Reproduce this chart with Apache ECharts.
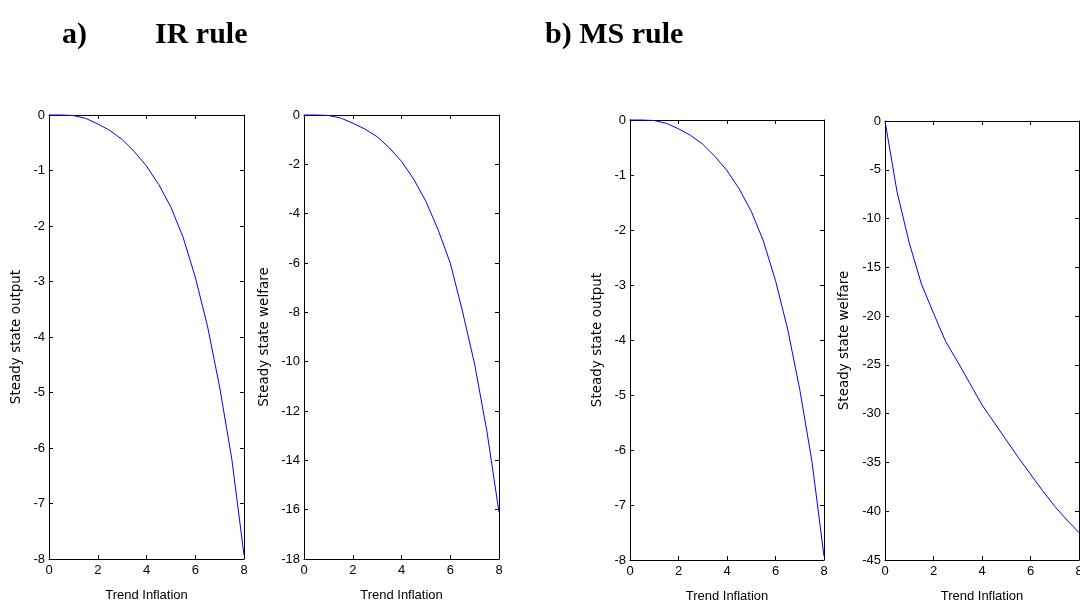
<!DOCTYPE html>
<html>
<head>
<meta charset="utf-8">
<script src="https://cdn.jsdelivr.net/npm/echarts@6/dist/echarts.min.js"></script>
<style>
html,body{margin:0;padding:0;background:#fff;}
#chart{width:1080px;height:604px;}
</style>
</head>
<body>
<div id="chart"></div>
<script>
// ---- data ----
var trendInflation = [0,0.5,1,1.5,2,2.5,3,3.5,4,4.5,5,5.5,6,6.5,7,7.5,8];
var irOutput  = [0,0,-0.01,-0.06,-0.16,-0.28,-0.44,-0.66,-0.92,-1.25,-1.66,-2.2,-2.92,-3.8,-4.9,-6.2,-7.93];
var irWelfare = [0,0,-0.02,-0.12,-0.33,-0.57,-0.88,-1.33,-1.88,-2.6,-3.5,-4.65,-6.0,-7.95,-10.1,-12.8,-16.1];
var msOutput  = [0,0,-0.01,-0.06,-0.16,-0.28,-0.44,-0.66,-0.92,-1.25,-1.66,-2.2,-2.92,-3.8,-4.9,-6.2,-7.93];
var msWelfare = [0,-7.3,-12.5,-16.7,-19.7,-22.6,-24.7,-26.9,-29.1,-30.9,-32.7,-34.5,-36.2,-37.9,-39.5,-40.9,-42.2];
var xName = 'Trend Inflation';
var yNames = ['Steady state output','Steady state welfare','Steady state output','Steady state welfare'];
var yMins = [-8,-18,-8,-45];
var yIntervals = [1,2,1,5];
var panelTitles = ['a)','IR rule','b) MS rule'];

var seriesData = [irOutput, irWelfare, msOutput, msWelfare];

// ---- layout ----
var grids = [
  {left:49, top:115, width:195, height:444, outerBoundsMode:'none', containLabel:false},
  {left:304, top:115, width:195, height:444, outerBoundsMode:'none', containLabel:false},
  {left:630, top:120, width:194, height:440, outerBoundsMode:'none', containLabel:false},
  {left:885, top:121, width:194, height:439, outerBoundsMode:'none', containLabel:false}
];
var yNameGaps = [26,33,26,34];

var axisLineStyle = {color:'#000', width:1};
var labelStyle = {color:'#000', fontSize:13, fontFamily:'Liberation Sans, Arial, sans-serif'};

var xAxes = [], yAxes = [], series = [];
grids.forEach(function(g,i){
  xAxes.push({
    type:'value', gridIndex:i, position:'bottom', min:0, max:8, interval:2,
    axisLine:{show:true, onZero:false, lineStyle:axisLineStyle},
    axisTick:{show:true, inside:true, length:4, lineStyle:axisLineStyle},
    axisLabel:Object.assign({margin:5}, labelStyle),
    splitLine:{show:false},
    name:xName, nameLocation:'middle', nameGap:30,
    nameTextStyle:{color:'#000', fontSize:13, fontFamily:'Liberation Sans, Arial, sans-serif'}
  });
  xAxes.push({
    type:'value', gridIndex:i, position:'top', min:0, max:8, interval:2,
    axisLine:{show:true, onZero:false, lineStyle:axisLineStyle},
    axisTick:{show:true, inside:true, length:4, lineStyle:axisLineStyle},
    axisLabel:{show:false}, splitLine:{show:false}
  });
  yAxes.push({
    type:'value', gridIndex:i, position:'left', min:yMins[i], max:0, interval:yIntervals[i],
    axisLine:{show:true, onZero:false, lineStyle:axisLineStyle},
    axisTick:{show:true, inside:true, length:4, lineStyle:axisLineStyle},
    axisLabel:Object.assign({margin:4}, labelStyle),
    splitLine:{show:false},
    name:yNames[i], nameLocation:'middle', nameGap:yNameGaps[i], nameRotate:90,
    nameTextStyle:{color:'#000', fontSize:13.5, fontFamily:'DejaVu Sans, sans-serif'}
  });
  yAxes.push({
    type:'value', gridIndex:i, position:'right', min:yMins[i], max:0, interval:yIntervals[i],
    axisLine:{show:true, onZero:false, lineStyle:axisLineStyle},
    axisTick:{show:true, inside:true, length:4, lineStyle:axisLineStyle},
    axisLabel:{show:false}, splitLine:{show:false}
  });
  series.push({
    type:'line', xAxisIndex:2*i, yAxisIndex:2*i, showSymbol:false, symbol:'none',
    smooth:false, clip:false,
    lineStyle:{color:'#0000ff', width:1},
    data: trendInflation.map(function(x,k){ return [x, seriesData[i][k]]; })
  });
});

var titleFont = 'bold 30px "Liberation Serif", "Times New Roman", serif';
var chart = echarts.init(document.getElementById('chart'), null, {renderer:'canvas'});
chart.setOption({
  backgroundColor:'#fff',
  animation:false,
  grid:grids,
  xAxis:xAxes,
  yAxis:yAxes,
  series:series,
  graphic:[
    {type:'text', left:62, top:20, style:{text:panelTitles[0], font:titleFont, fill:'#000'}},
    {type:'text', left:155, top:20, style:{text:panelTitles[1], font:titleFont, fill:'#000'}},
    {type:'text', left:545, top:20, style:{text:panelTitles[2], font:titleFont, fill:'#000'}}
  ]
});
</script>
</body>
</html>
